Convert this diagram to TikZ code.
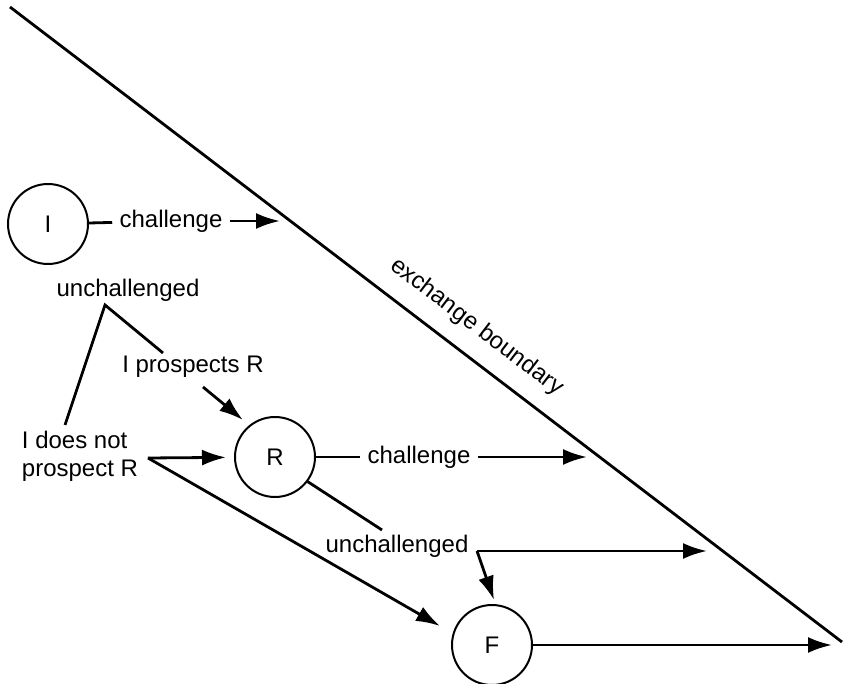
\documentclass[tikz,border=0pt]{standalone}
\usepackage{fontspec}
\setmainfont{Liberation Sans}
\usetikzlibrary{arrows.meta}

\begin{document}
\begin{tikzpicture}[x=0.5pt, y=-0.5pt,
    line width=1.4pt,
    >={Latex[length=12pt, width=8pt]},
    stage/.style={draw, circle, line width=1pt, minimum size=40pt, inner sep=0pt},
    lbl/.style={inner sep=3pt},
    every node/.style={font=\fontsize{12}{14}\selectfont}]
    \useasboundingbox (0,0) rectangle (843,684);

    % Exchange boundary
    \coordinate (top) at (10,7);
    \coordinate (bot) at (842,642);
    \draw (top) -- (bot) node[pos=0.54, sloped, above=6pt, inner sep=2pt] {exchange boundary};

    % Stages
    \node[stage] (I) at (48,224) {I};
    \node[stage] (R) at (275,457) {R};
    \node[stage] (F) at (492,645) {F};

    % Labels
    \node[lbl] (chI) at (171,221) {challenge};
    \node[lbl] (chR) at (419,457) {challenge};
    \node[lbl] (unI) at (128,290) {unchallenged};
    \node[lbl] (unR) at (397,546) {unchallenged};
    \node[lbl] (pro) at (193,367) {I prospects R};
    \node[lbl, align=left] (nopro) at (80,456) {I does not\\prospect R};

    % Free ends
    \coordinate (bI) at (280,221);
    \coordinate (bR) at (587,457);
    \coordinate (bU) at (707,551);
    \coordinate (bF) at (832,645);
    \coordinate (fork) at (105,305);
    \coordinate (forkA) at (65,425);
    \coordinate (forkB) at (163,353);
    \coordinate (proA) at (203,387);
    \coordinate (proB) at (243,420);
    \coordinate (nopA) at (148,458);
    \coordinate (nopF) at (440,626);
    \coordinate (unA) at (382,530);
    \coordinate (corner) at (477,551);
    \coordinate (cornerF) at (494,600);

    % Challenges
    \draw (I) -- (chI);
    \draw[->] (chI) -- (bI);
    \draw (R) -- (chR);
    \draw[->] (chR) -- (bR);

    % Unchallenged branches
    \draw (forkA) -- (fork) -- (forkB);
    \draw[->] (proA) -- (proB);
    \draw[->, shorten >=4pt] (nopA) -- (R);
    \draw[->] (nopA) -- (nopF);
    \draw (R.-37) -- (unA);
    \draw[->] (corner) -- (bU);
    \draw[->] (corner) -- (cornerF);
    \draw[->] (F) -- (bF);
\end{tikzpicture}
\end{document}
